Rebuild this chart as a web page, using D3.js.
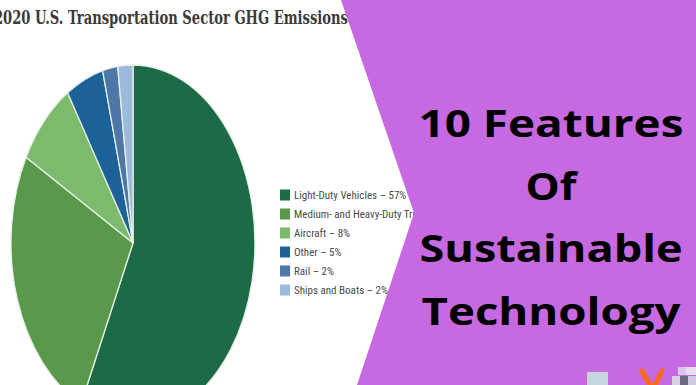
<!DOCTYPE html>
<html>
<head>
<meta charset="utf-8">
<script src="https://cdn.jsdelivr.net/npm/d3@7"></script>
<style>
  html, body { margin: 0; padding: 0; background: #fff; overflow: hidden; }
  svg { display: block; }
</style>
</head>
<body>
<svg id="chart" width="696" height="385"></svg>
<script>
"use strict";

// chart data
const categories = [
  "Light-Duty Vehicles",
  "Medium- and Heavy-Duty Trucks",
  "Aircraft",
  "Other",
  "Rail",
  "Ships and Boats"
];
const shares = [57, 26, 8, 5, 2, 2];
const legendLabels = [
  "Light-Duty Vehicles \u2013 57%",
  "Medium- and Heavy-Duty Trucks \u2013 26%",
  "Aircraft \u2013 8%",
  "Other \u2013 5%",
  "Rail \u2013 2%",
  "Ships and Boats \u2013 2%"
];
const sliceColors = ["#1d6a47", "#5a994c", "#7cba6c", "#1c6198", "#4d77a6", "#9bbbdc"];
const headlineLines = ["10 Features", "Of", "Sustainable", "Technology"];
const headlineWidths = [265, 51, 263, 259];

const width = 696, height = 385;
const svg = d3.select("#chart");

// title (cut off at the left edge in the picture)
svg.append("text")
  .attr("x", -6)
  .attr("y", 24)
  .attr("font-family", "DejaVu Serif, Liberation Serif, serif")
  .attr("font-size", 18.5)
  .attr("font-weight", "bold")
  .attr("fill", "#3a3a3a")
  .attr("textLength", 354)
  .attr("lengthAdjust", "spacingAndGlyphs")
  .text("2020 U.S. Transportation Sector GHG Emissions");

// pie, drawn as a circle then stretched into the tall ellipse
const rx = 122, ry = 178;
const cx = 133, cy = 243;
const pie = d3.pie().sort(null).value(d => d)(shares);
const arc = d3.arc().innerRadius(0).outerRadius(1);

const pieG = svg.append("g")
  .attr("transform", `translate(${cx},${cy}) scale(${rx},${ry})`);

pieG.selectAll("path")
  .data(pie)
  .join("path")
  .attr("d", arc)
  .attr("fill", (d, i) => sliceColors[i])
  .attr("stroke", "#e6f0e6")
  .attr("stroke-width", 1.3)
  .attr("vector-effect", "non-scaling-stroke");

// legend
const legendY = d3.scalePoint()
  .domain(categories)
  .range([195, 290]);

const legend = svg.append("g")
  .selectAll("g")
  .data(categories)
  .join("g")
  .attr("transform", d => `translate(280,${legendY(d)})`);

legend.append("rect")
  .attr("x", 0)
  .attr("y", -5.5)
  .attr("width", 10)
  .attr("height", 11)
  .attr("fill", (d, i) => sliceColors[i]);

legend.append("text")
  .attr("x", 14)
  .attr("y", 4)
  .attr("font-family", "Liberation Sans Narrow, Roboto, sans-serif")
  .attr("font-stretch", "condensed")
  .attr("font-size", 11)
  .attr("fill", "#4a4a4a")
  .text((d, i) => legendLabels[i]);

// purple banner over the right side
svg.append("polygon")
  .attr("points", "341,0 696,0 696,385 357,385 414,213")
  .attr("fill", "#c769e1");

// headline
const lineY = d3.scalePoint()
  .domain(headlineLines)
  .range([137, 325]);

svg.append("g")
  .selectAll("text")
  .data(headlineLines)
  .join("text")
  .attr("x", 551)
  .attr("y", d => lineY(d))
  .attr("text-anchor", "middle")
  .attr("font-family", "Open Sans, Noto Sans, sans-serif")
  .attr("font-weight", "bold")
  .attr("font-size", 38)
  .attr("textLength", (d, i) => headlineWidths[i])
  .attr("lengthAdjust", "spacingAndGlyphs")
  .attr("fill", "#000")
  .text(d => d);

// little logo bits at the bottom right
const logo = svg.append("g");
logo.append("rect").attr("x", 587).attr("y", 372).attr("width", 21).attr("height", 13).attr("fill", "#c5d6dc");
logo.append("path")
  .attr("d", "M642,371 L650,385 M662,371 L655,385")
  .attr("stroke", "#ff6a10")
  .attr("stroke-width", 5)
  .attr("stroke-linecap", "round");
logo.append("rect").attr("x", 678).attr("y", 367).attr("width", 8).attr("height", 8).attr("fill", "#d8c8ea");
logo.append("rect").attr("x", 686).attr("y", 367).attr("width", 10).attr("height", 8).attr("fill", "#e8e0f0");
logo.append("rect").attr("x", 672).attr("y", 376).attr("width", 8).attr("height", 9).attr("fill", "#d8d0e6");
logo.append("rect").attr("x", 680).attr("y", 376).attr("width", 8).attr("height", 9).attr("fill", "#6a6a80");
logo.append("rect").attr("x", 688).attr("y", 376).attr("width", 8).attr("height", 9).attr("fill", "#cfc6e0");
</script>
</body>
</html>
